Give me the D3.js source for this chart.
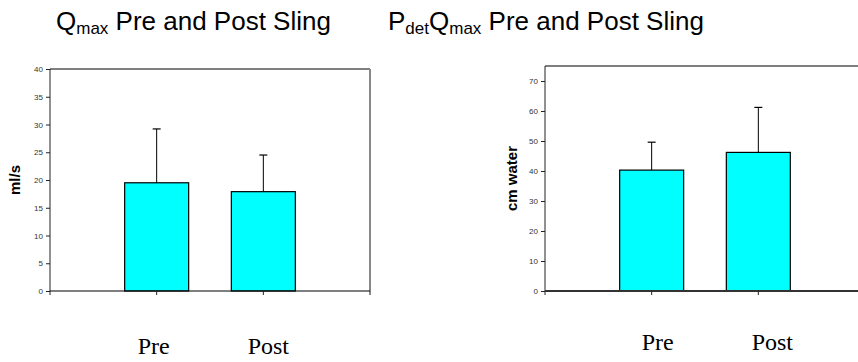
<!DOCTYPE html>
<html><head><meta charset="utf-8">
<script src="https://cdn.jsdelivr.net/npm/d3@7"></script>
<style>body{margin:0;background:#fff}svg{display:block}</style>
</head><body>
<script>
const categories = ["Pre", "Post"];
const qmaxMeans = [19.5, 17.9];
const qmaxUpper = [29.2, 24.5];
const qmaxTicks = [0, 5, 10, 15, 20, 25, 30, 35, 40];
const pdetMeans = [40.3, 46.2];
const pdetUpper = [49.6, 61.2];
const pdetTicks = [0, 10, 20, 30, 40, 50, 60, 70];

const W = 858, H = 362;
const svg = d3.select("body").append("svg").attr("width", W).attr("height", H);

function panel(opt) {
  const g = svg.append("g");
  const x = d3.scalePoint().domain(["_a", ...categories, "_b"]).range([opt.left, opt.left + 320]);
  const y = d3.scaleLinear().domain([0, opt.max]).range([291, opt.top]);
  g.append("line").attr("x1", opt.left).attr("x2", opt.left + 320).attr("y1", y(opt.max)).attr("y2", y(opt.max))
    .attr("stroke", opt.topColor).attr("stroke-width", opt.topW);
  if (opt.rightBorder) {
    g.append("line").attr("x1", opt.left + 320).attr("x2", opt.left + 320).attr("y1", y(opt.max)).attr("y2", 295)
      .attr("stroke", "#888").attr("stroke-width", 2);
  }
  const ya = g.append("g").attr("transform", `translate(${opt.left},0)`)
    .call(d3.axisLeft(y).tickValues(opt.ticks).tickSize(4).tickPadding(3).tickSizeOuter(0));
  ya.select(".domain").attr("stroke", "#222").attr("d", `M0,${y(opt.max)}V295`);
  ya.selectAll(".tick line").attr("stroke", "#222");
  ya.selectAll(".tick text").attr("font-family", "Arial, 'Liberation Sans', sans-serif").attr("font-size", 8).attr("fill", "#333");
  g.selectAll("rect.bar").data(categories).join("rect").attr("class", "bar")
    .attr("x", d => x(d) - 32).attr("width", 64)
    .attr("y", (d, i) => y(opt.means[i])).attr("height", (d, i) => y(0) - y(opt.means[i]))
    .attr("fill", "#00FFFF").attr("stroke", "#000").attr("stroke-width", 1.2);
  g.selectAll("line.err").data(categories).join("line").attr("class", "err")
    .attr("x1", d => x(d)).attr("x2", d => x(d))
    .attr("y1", (d, i) => y(opt.means[i])).attr("y2", (d, i) => y(opt.upper[i]))
    .attr("stroke", "#000").attr("stroke-width", 1);
  g.selectAll("line.cap").data(categories).join("line").attr("class", "cap")
    .attr("x1", d => x(d) - 4).attr("x2", d => x(d) + 4)
    .attr("y1", (d, i) => y(opt.upper[i])).attr("y2", (d, i) => y(opt.upper[i]))
    .attr("stroke", "#000").attr("stroke-width", 1.2);
  g.append("line").attr("x1", opt.left).attr("x2", opt.left + 320).attr("y1", y(0)).attr("y2", y(0))
    .attr("stroke", opt.baseColor).attr("stroke-width", opt.baseW);
  g.selectAll("line.xt").data(categories).join("line").attr("class", "xt")
    .attr("x1", d => x(d)).attr("x2", d => x(d)).attr("y1", y(0)).attr("y2", y(0) + 4)
    .attr("stroke", "#222");
  g.append("text").attr("transform", `translate(${opt.ytX},${(y(0) + y(opt.max)) / 2}) rotate(-90)`)
    .attr("text-anchor", "middle").attr("font-family", "Arial, 'Liberation Sans', sans-serif")
    .attr("font-weight", "bold").attr("font-size", opt.ytSize).attr("fill", "#000").text(opt.ytitle);
  g.selectAll("text.cat").data(categories).join("text").attr("class", "cat")
    .attr("x", (d, i) => x(d) + opt.catOff[i]).attr("y", opt.catY)
    .attr("text-anchor", "middle").attr("font-family", "'Liberation Serif', 'Times New Roman', serif")
    .attr("font-size", 24).attr("fill", "#000").text(d => d);
  return g;
}

panel({left: 50, top: 69, max: 40, ticks: qmaxTicks, means: qmaxMeans, upper: qmaxUpper,
  topColor: "#000", topW: 1.2, rightBorder: true, baseColor: "#000", baseW: 1.2,
  ytitle: "ml/s", ytX: 20, ytSize: 15, catOff: [-3, 5], catY: 354});
panel({left: 545, top: 66, max: 75, ticks: pdetTicks, means: pdetMeans, upper: pdetUpper,
  topColor: "#555", topW: 1.5, rightBorder: false, baseColor: "#333", baseW: 2,
  ytitle: "cm water", ytX: 517, ytSize: 15, catOff: [6, 14], catY: 350});

const tf = "Arial, 'Liberation Sans', sans-serif";
const t1 = svg.append("text").attr("x", 56).attr("y", 30).attr("font-family", tf).attr("font-size", 26).attr("fill", "#000");
t1.append("tspan").text("Q");
t1.append("tspan").attr("font-size", 17).attr("dy", 4).text("max");
t1.append("tspan").attr("dy", -4).text(" Pre and Post Sling");
const t2 = svg.append("text").attr("x", 388).attr("y", 30).attr("font-family", tf).attr("font-size", 26).attr("fill", "#000");
t2.append("tspan").text("P");
t2.append("tspan").attr("font-size", 17).attr("dy", 4).text("det");
t2.append("tspan").attr("dy", -4).text("Q");
t2.append("tspan").attr("font-size", 17).attr("dy", 4).text("max");
t2.append("tspan").attr("dy", -4).text(" Pre and Post Sling");
</script>
</body></html>
